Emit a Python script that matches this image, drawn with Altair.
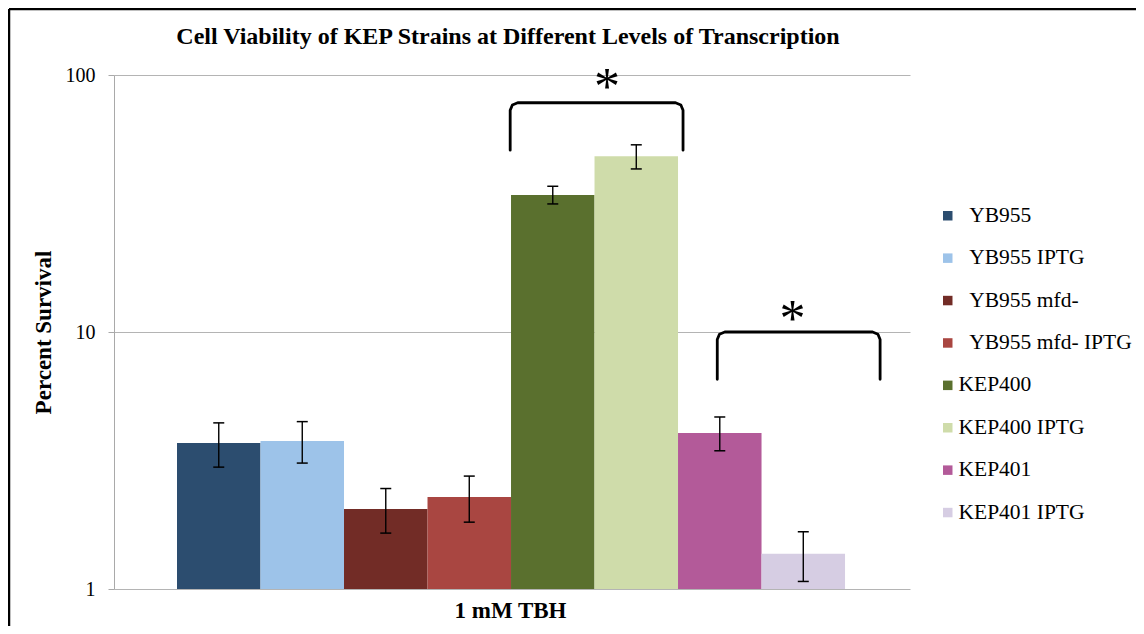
import altair as alt
import pandas as pd

# ---------------- data ----------------
strains = ["YB955", "YB955 IPTG", "YB955 mfd-", "YB955 mfd- IPTG",
           "KEP400", "KEP400 IPTG", "KEP401", "KEP401 IPTG"]
survival = [3.70, 3.77, 2.05, 2.28, 34.1, 48.3, 4.05, 1.37]
err_high = [4.43, 4.48, 2.46, 2.75, 36.9, 53.5, 4.67, 1.67]
err_low = [2.98, 3.09, 1.65, 1.82, 31.5, 43.1, 3.45, 1.07]
colors = ["#2c4d6f", "#9dc3e9", "#722c26", "#a94641",
          "#5a702e", "#cfdcaa", "#b35a99", "#d6cde3"]
condition = "1 mM TBH"
chart_title = "Cell Viability of KEP Strains at Different Levels of Transcription"
y_title = "Percent Survival"
y_ticks = [1, 10, 100]

# significance brackets (bar-index units / percent survival)
br_left = [3.99, 6.47]
br_right = [6.06, 8.42]
br_top = [78.0, 10.0]
br_bottom = [51.0, 6.55]
star_x = [5.15, 7.37]
star_y = [76.8, 9.63]

# ---------------- tables ----------------
n = len(strains)
bars = pd.DataFrame({
    "strain": strains,
    "value": survival,
    "hi": err_high,
    "lo": err_low,
    "x0": list(range(n)),
    "x1": [i + 1 for i in range(n)],
    "xc": [i + 0.5 for i in range(n)],
})

caps = pd.DataFrame({
    "xc": [i + 0.5 for i in range(n)] * 2,
    "y": err_high + err_low,
})

# bracket outlines with small rounded (chamfered) corners
cx = 0.09      # corner size in bar units
f = 1.07       # corner size as a factor on the log axis
rows = []
for b in range(len(br_left)):
    L, R, T, B = br_left[b], br_right[b], br_top[b], br_bottom[b]
    pts = [(L, B), (L, T / f), (L + 0.29 * cx, T / f ** 0.29), (L + cx, T),
           (R - cx, T), (R - 0.29 * cx, T / f ** 0.29), (R, T / f), (R, B)]
    for k, (px, py) in enumerate(pts):
        rows.append({"b": b, "k": k, "bx": px, "by": py})
brackets = pd.DataFrame(rows)

stars = pd.DataFrame({"sx": star_x, "sy": star_y, "t": ["*"] * len(star_x)})
one = pd.DataFrame({"t": [chart_title]})

# ---------------- scales / axes ----------------
FONT = "Liberation Serif"
xscale = alt.Scale(domain=[-0.7545, 8.778], nice=False, zero=False)
yscale = alt.Scale(type="log", domain=[1, 100], nice=False)

x_axis = alt.Axis(title=condition, labels=False, ticks=False, domain=False, grid=False,
                  titleFont=FONT, titleFontSize=23, titleFontWeight="bold",
                  titleColor="black", titleX=396, titleY=28,
                  titleBaseline="alphabetic", titleAlign="center")
y_axis = alt.Axis(title=y_title, values=y_ticks, format="d",
                  labelFont=FONT, labelFontSize=20, labelColor="black",
                  labelPadding=13, tickSize=6, tickColor="#a9a9a9",
                  domainColor="#a9a9a9", gridColor="#b4b4b4", grid=True,
                  titleFont=FONT, titleFontSize=23, titleFontWeight="bold",
                  titleColor="black", titleAngle=-90, titleX=-64, titleY=257,
                  titleBaseline="alphabetic", titleAlign="center")

# the YB955 entries sit a little further from their swatches than the KEP ones
label_expr = ("indexof(datum.label, 'KEP') == 0"
              " ? datum.label : '\u200b\u2002' + datum.label")

bar_layer = alt.Chart(bars).mark_rect().encode(
    x=alt.X("x0:Q", scale=xscale, axis=x_axis),
    x2="x1:Q",
    y=alt.Y("value:Q", scale=yscale, axis=y_axis),
    y2=alt.datum(1),
    color=alt.Color("strain:N", scale=alt.Scale(domain=strains, range=colors),
                    legend=alt.Legend(title=None, orient="none", legendX=823, legendY=130,
                                      padding=0, symbolType="square", symbolSize=90,
                                      symbolStrokeWidth=0, symbolOpacity=1,
                                      labelFont=FONT, labelFontSize=21.5, labelColor="black",
                                      labelOffset=0, rowPadding=19.4, labelLimit=300,
                                      labelExpr=label_expr)),
)

err_layer = alt.Chart(bars).mark_rule(color="black", strokeWidth=1.4).encode(
    x=alt.X("xc:Q", scale=xscale, axis=x_axis),
    y=alt.Y("lo:Q", scale=yscale, axis=y_axis),
    y2="hi:Q",
)

cap_layer = alt.Chart(caps).mark_tick(orient="horizontal", size=11, thickness=1.5,
                                      color="black", opacity=1).encode(
    x=alt.X("xc:Q", scale=xscale, axis=x_axis),
    y=alt.Y("y:Q", scale=yscale, axis=y_axis),
)

bracket_layer = alt.Chart(brackets).mark_line(color="black", strokeWidth=2.8,
                                              strokeCap="round", strokeJoin="round").encode(
    x=alt.X("bx:Q", scale=xscale, axis=x_axis),
    y=alt.Y("by:Q", scale=yscale, axis=y_axis),
    detail="b:N",
    order="k:Q",
)

star_layer = alt.Chart(stars).mark_text(font=FONT, fontSize=52, color="black",
                                        baseline="alphabetic", align="center").encode(
    x=alt.X("sx:Q", scale=xscale, axis=x_axis),
    y=alt.Y("sy:Q", scale=yscale, axis=y_axis),
    text="t:N",
)

title_layer = alt.Chart(one).mark_text(font=FONT, fontSize=24, fontWeight="bold",
                                       color="black", baseline="alphabetic",
                                       align="center").encode(
    x=alt.value(394), y=alt.value(-31), text="t:N")

frame_top = alt.Chart(one).mark_rule(color="black", strokeWidth=2.5).encode(
    x=alt.value(-105), x2=alt.value(1030), y=alt.value(-66))
frame_left = alt.Chart(one).mark_rule(color="black", strokeWidth=2.5).encode(
    x=alt.value(-105), y=alt.value(-66), y2=alt.value(560))

chart = alt.layer(bar_layer, err_layer, cap_layer, bracket_layer, star_layer,
                  title_layer, frame_top, frame_left).properties(
    width=796, height=514,
    autosize=alt.AutoSizeParams(type="none"),
    padding={"left": 106, "top": 67, "right": 226, "bottom": 37},
    background="white",
).configure_view(stroke=None)

chart.save("out.html", embed_options={"renderer": "svg", "actions": False})
